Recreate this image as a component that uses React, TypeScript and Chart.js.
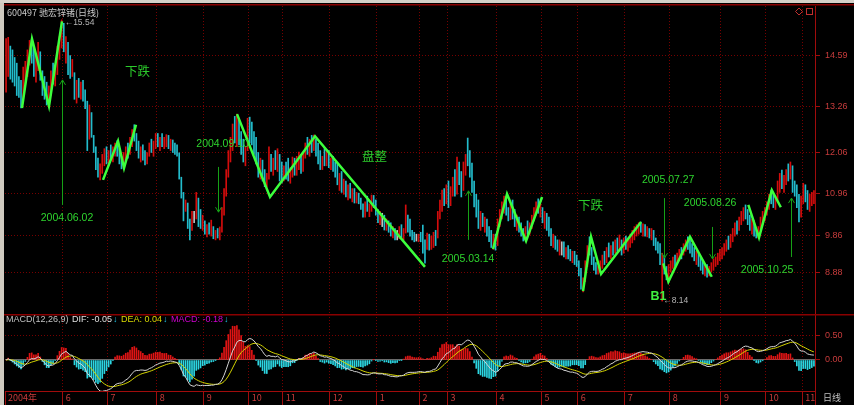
import React, { useEffect, useRef } from 'react';
import { Chart, registerables } from 'chart.js';

Chart.register(...registerables);

// ---- daily bars (600497, 2004-04 .. 2005-11) ----
const highs = [
  15.05, 15.08, 14.85, 14.75, 14.55, 14.40, 14.05, 13.95, 14.30, 14.45,
  14.75, 15.00, 15.03, 14.80, 14.60, 14.95, 14.70, 14.20, 14.05, 13.90,
  13.80, 14.20, 14.40, 14.35, 14.85, 15.10, 15.54, 15.45, 15.10, 14.95,
  14.60, 14.50, 14.15, 13.95, 14.00, 13.90, 13.95, 13.70, 13.40, 13.30,
  13.10, 12.50, 12.20, 11.90, 11.75, 12.00, 12.15, 12.20, 12.10, 12.25,
  12.20, 12.30, 12.36, 12.15, 11.95, 12.05, 12.20, 12.30, 12.45, 12.65,
  12.78, 12.55, 12.35, 12.20, 12.25, 12.10, 12.05, 12.30, 12.40, 12.35,
  12.55, 12.55, 12.45, 12.55, 12.45, 12.52, 12.50, 12.40, 12.38, 12.30,
  12.25, 12.04, 11.40, 11.00, 10.80, 10.72, 10.30, 10.50, 10.50, 11.00,
  10.85, 10.55, 10.40, 10.25, 10.15, 10.20, 10.27, 10.10, 10.00, 10.05,
  10.09, 10.60, 11.10, 11.60, 12.10, 12.45, 12.80, 13.00, 13.06, 12.95,
  12.60, 12.40, 12.20, 12.95, 12.98, 12.85, 12.60, 12.45, 12.05, 11.90,
  11.85, 11.60, 11.50, 12.20, 12.00, 11.90, 12.10, 12.15, 12.00, 11.80,
  11.70, 11.80, 11.90, 11.65, 11.93, 11.90, 11.95, 12.06, 12.00, 12.05,
  12.30, 12.45, 12.40, 12.50, 12.51, 12.40, 12.30, 12.10, 11.95, 12.15,
  12.12, 12.10, 11.90, 11.95, 11.80, 11.77, 11.50, 11.55, 11.35, 11.30,
  11.20, 11.24, 11.10, 11.10, 11.00, 10.98, 10.85, 10.70, 10.75, 10.90,
  10.70, 10.93, 10.92, 10.80, 10.55, 10.50, 10.45, 10.40, 10.30, 10.25,
  10.20, 10.10, 10.05, 10.00, 10.10, 10.15, 10.05, 10.67, 10.40, 10.30,
  10.00, 9.95, 9.90, 9.90, 9.95, 10.14, 9.75, 9.93, 9.90, 9.85,
  9.95, 10.00, 10.50, 10.80, 11.06, 11.10, 11.20, 11.30, 11.15, 11.40,
  11.60, 11.93, 11.80, 11.55, 11.80, 12.00, 12.43, 12.10, 11.77, 11.30,
  10.95, 10.80, 10.50, 10.45, 10.35, 10.30, 10.10, 10.00, 9.90, 9.90,
  10.30, 10.55, 10.75, 10.90, 10.88, 10.60, 10.70, 10.80, 10.55, 10.40,
  10.35, 10.20, 10.05, 10.10, 10.25, 10.20, 10.40, 10.60, 10.75, 10.83,
  10.70, 10.60, 10.50, 10.45, 10.35, 10.05, 9.90, 9.85, 9.75, 9.75,
  9.70, 9.70, 9.55, 9.60, 9.50, 9.45, 9.45, 9.35, 9.20, 9.00,
  8.75, 9.20, 9.60, 9.83, 9.55, 9.30, 9.15, 9.05, 9.20, 9.35,
  9.45, 9.55, 9.67, 9.60, 9.70, 9.75, 9.80, 9.88, 9.75, 9.80,
  9.85, 9.80, 9.90, 10.00, 10.10, 10.15, 10.20, 10.22, 10.17, 10.15,
  10.10, 10.05, 10.05, 10.00, 9.80, 9.70, 9.65, 9.40, 9.35, 9.05,
  9.10, 9.20, 9.30, 9.35, 9.40, 9.50, 9.55, 9.65, 9.75, 9.83,
  9.75, 9.65, 9.55, 9.45, 9.40, 9.30, 9.20, 9.10, 9.10, 9.05,
  9.15, 9.25, 9.30, 9.40, 9.50, 9.55, 9.65, 9.75, 9.85, 9.90,
  10.05, 10.20, 10.25, 10.35, 10.50, 10.60, 10.67, 10.55, 10.40, 10.30,
  10.25, 10.05, 10.10, 10.35, 10.50, 10.60, 10.75, 10.95, 11.06, 10.95,
  10.90, 11.30, 11.50, 11.59, 11.45, 11.60, 11.75, 11.80, 11.70, 11.30,
  11.20, 10.95, 10.90, 11.24, 11.20, 11.05, 10.95, 11.00, 11.05,
];

const lows = [
  13.64, 14.05, 13.98, 13.90, 13.80, 13.55, 13.50, 13.22, 13.40, 13.85,
  14.05, 14.35, 14.40, 14.05, 13.90, 14.20, 13.95, 13.55, 13.45, 13.30,
  13.27, 13.55, 13.85, 13.80, 14.10, 14.50, 14.80, 14.70, 14.40, 14.10,
  14.00, 14.05, 13.45, 13.35, 13.50, 13.45, 13.40, 13.20, 12.10, 12.40,
  12.45, 12.05, 11.60, 11.40, 11.33, 11.50, 11.70, 11.75, 11.70, 11.85,
  11.80, 11.95, 11.95, 11.75, 11.62, 11.64, 11.85, 11.90, 12.00, 12.20,
  12.35, 12.10, 11.90, 11.80, 11.85, 11.72, 11.75, 11.95, 12.05, 11.95,
  12.15, 12.20, 12.10, 12.20, 12.15, 12.20, 12.15, 12.10, 12.05, 12.00,
  11.95, 11.35, 10.85, 10.25, 10.50, 10.05, 9.75, 10.00, 10.20, 10.30,
  10.10, 10.05, 10.00, 9.90, 9.83, 9.90, 9.85, 9.78, 9.75, 9.80,
  9.75, 9.95, 10.40, 10.90, 11.40, 11.80, 12.10, 12.30, 12.20, 12.25,
  12.00, 11.80, 11.70, 12.10, 12.30, 12.25, 12.00, 11.75, 11.40, 11.35,
  11.30, 11.15, 11.14, 11.35, 11.55, 11.45, 11.60, 11.55, 11.30, 11.25,
  11.30, 11.35, 11.30, 11.24, 11.40, 11.45, 11.45, 11.60, 11.50, 11.55,
  11.90, 12.00, 11.95, 12.05, 12.10, 11.95, 11.75, 11.60, 11.60, 11.70,
  11.70, 11.65, 11.60, 11.55, 11.40, 11.20, 11.05, 11.00, 10.95, 10.88,
  10.80, 10.85, 10.75, 10.72, 10.72, 10.70, 10.55, 10.35, 10.35, 10.50,
  10.36, 10.50, 10.60, 10.40, 10.20, 10.15, 10.10, 10.01, 10.00, 9.95,
  9.85, 9.80, 9.75, 9.75, 9.78, 9.80, 9.75, 9.93, 9.95, 9.85,
  9.75, 9.70, 9.72, 9.70, 9.70, 9.40, 9.14, 9.50, 9.48, 9.50,
  9.55, 9.60, 9.80, 10.30, 10.50, 10.65, 10.70, 10.60, 10.65, 10.90,
  10.90, 10.95, 11.20, 10.88, 11.05, 11.45, 11.70, 11.40, 11.00, 10.62,
  10.35, 10.05, 10.00, 10.10, 9.95, 9.85, 9.70, 9.55, 9.50, 9.48,
  9.60, 10.10, 10.30, 10.45, 10.40, 10.25, 10.28, 10.30, 10.10, 10.00,
  9.95, 9.85, 9.72, 9.75, 9.90, 9.90, 10.05, 10.25, 10.40, 10.45,
  10.35, 10.20, 10.05, 10.00, 9.85, 9.60, 9.55, 9.50, 9.45, 9.35,
  9.35, 9.30, 9.25, 9.25, 9.20, 9.15, 9.10, 9.05, 8.80, 8.45,
  8.38, 8.65, 9.05, 9.35, 9.10, 8.95, 8.85, 8.85, 8.90, 9.00,
  9.10, 9.15, 9.30, 9.25, 9.35, 9.40, 9.45, 9.50, 9.35, 9.40,
  9.50, 9.45, 9.55, 9.67, 9.75, 9.85, 9.90, 9.95, 9.85, 9.85,
  9.83, 9.80, 9.75, 9.60, 9.48, 9.40, 9.10, 8.14, 8.85, 8.70,
  8.75, 8.90, 9.00, 9.05, 9.10, 9.20, 9.25, 9.35, 9.45, 9.50,
  9.40, 9.30, 9.20, 9.10, 9.05, 8.95, 8.85, 8.80, 8.77, 8.80,
  8.90, 8.95, 9.05, 9.10, 9.20, 9.25, 9.35, 9.45, 9.50, 9.55,
  9.70, 9.85, 9.90, 10.00, 10.15, 10.25, 10.30, 10.15, 10.00, 9.90,
  9.85, 9.80, 9.80, 10.00, 10.15, 10.25, 10.40, 10.55, 10.70, 10.60,
  10.55, 10.80, 11.00, 11.10, 11.00, 11.20, 11.30, 11.35, 11.00, 10.90,
  10.60, 10.22, 10.35, 10.70, 10.75, 10.55, 10.50, 10.65, 10.70,
];

const closes = [
  14.30, 14.60, 14.10, 14.00, 13.85, 13.70, 13.60, 13.45, 14.10, 14.30,
  14.55, 14.80, 14.50, 14.20, 14.45, 14.70, 14.05, 13.70, 13.60, 13.45,
  13.65, 14.05, 13.95, 14.25, 14.70, 14.95, 15.20, 14.85, 14.95, 14.25,
  14.15, 14.40, 13.60, 13.80, 13.65, 13.85, 13.50, 13.30, 12.30, 13.00,
  12.60, 12.15, 11.70, 11.55, 11.65, 11.90, 12.05, 11.85, 12.00, 11.95,
  12.10, 12.25, 12.05, 11.85, 11.75, 11.95, 12.10, 12.00, 12.35, 12.55,
  12.45, 12.20, 12.00, 12.10, 11.95, 11.85, 12.00, 12.25, 12.15, 12.30,
  12.40, 12.30, 12.40, 12.25, 12.35, 12.45, 12.20, 12.35, 12.15, 12.10,
  12.05, 11.40, 10.95, 10.40, 10.70, 10.15, 9.95, 10.35, 10.35, 10.80,
  10.25, 10.20, 10.30, 10.05, 10.10, 9.95, 10.00, 9.85, 9.95, 9.82,
  10.00, 10.50, 11.00, 11.50, 11.95, 12.30, 12.55, 12.45, 12.90, 12.40,
  12.15, 11.90, 12.10, 12.80, 12.70, 12.35, 12.10, 11.85, 11.60, 11.80,
  11.40, 11.25, 11.45, 12.05, 11.65, 11.85, 11.70, 12.05, 11.40, 11.35,
  11.60, 11.45, 11.40, 11.50, 11.85, 11.55, 11.90, 11.95, 11.70, 11.98,
  12.25, 12.10, 12.35, 12.20, 12.45, 12.00, 11.85, 11.70, 11.90, 11.80,
  12.05, 11.75, 11.80, 11.65, 11.50, 11.30, 11.45, 11.10, 11.25, 10.95,
  11.15, 10.90, 11.05, 10.80, 10.95, 10.75, 10.62, 10.45, 10.65, 10.55,
  10.60, 10.85, 10.70, 10.50, 10.30, 10.40, 10.40, 10.10, 10.20, 10.00,
  9.90, 10.00, 9.85, 9.85, 10.05, 9.90, 9.95, 10.20, 10.05, 9.95,
  9.82, 9.80, 9.80, 9.85, 9.75, 9.60, 9.55, 9.80, 9.60, 9.75,
  9.90, 9.70, 10.40, 10.70, 10.90, 10.75, 11.10, 10.70, 11.05, 11.20,
  11.00, 11.70, 11.35, 11.10, 11.65, 11.90, 11.85, 11.55, 11.10, 10.75,
  10.50, 10.15, 10.40, 10.20, 10.25, 9.95, 9.80, 9.65, 9.85, 9.60,
  10.20, 10.45, 10.60, 10.80, 10.50, 10.35, 10.65, 10.40, 10.20, 10.30,
  10.05, 9.95, 9.90, 10.05, 10.00, 10.15, 10.35, 10.50, 10.60, 10.55,
  10.65, 10.30, 10.40, 10.10, 9.95, 9.70, 9.80, 9.60, 9.55, 9.65,
  9.65, 9.40, 9.50, 9.35, 9.30, 9.40, 9.20, 9.15, 8.90, 8.55,
  8.70, 9.10, 9.50, 9.45, 9.20, 9.05, 8.95, 9.00, 9.15, 9.25,
  9.20, 9.45, 9.40, 9.55, 9.45, 9.70, 9.55, 9.60, 9.45, 9.75,
  9.60, 9.70, 9.80, 9.90, 10.00, 10.05, 10.15, 10.05, 10.10, 9.95,
  10.00, 9.90, 9.95, 9.70, 9.55, 9.50, 9.12, 9.20, 8.95, 8.85,
  9.00, 9.10, 9.25, 9.15, 9.35, 9.45, 9.40, 9.60, 9.70, 9.60,
  9.50, 9.40, 9.30, 9.35, 9.15, 9.05, 8.95, 9.00, 8.85, 9.00,
  9.10, 9.20, 9.25, 9.35, 9.45, 9.50, 9.60, 9.70, 9.65, 9.85,
  10.00, 10.10, 10.05, 10.30, 10.40, 10.55, 10.45, 10.25, 10.10, 10.20,
  9.95, 9.90, 10.05, 10.30, 10.40, 10.55, 10.70, 10.85, 10.80, 10.70,
  10.85, 11.20, 11.40, 11.25, 11.35, 11.50, 11.45, 11.70, 11.10, 11.00,
  10.70, 10.40, 10.80, 11.10, 10.85, 10.65, 10.85, 10.90, 10.95,
];

// month boundaries (bar index where each month starts) and their labels
const monthStarts = [0, 27, 48, 71, 93, 114, 130, 152, 174, 194, 207, 230, 251, 268, 290, 311, 335, 356, 373];
const monthLabels = ['2004年', '6', '7', '8', '9', '10', '11', '12', '1', '2', '3', '4', '5', '6', '7', '8', '9', '10', '11'];
const priceTicks = [8.88, 9.86, 10.96, 12.06, 13.26, 14.59];
const macdTicks = [0, 0.5];

// hand-drawn wave lines, as [bar index, price]
const zigzags: number[][][] = [
  [[7.45, 13.22], [12.13, 15.04], [20.09, 13.27], [26.17, 15.5]],
  [[45.36, 11.33], [52.38, 12.35], [55.19, 11.64], [60.8, 12.78]],
  [[108.06, 13.06], [123.5, 10.88], [144.56, 12.48], [196.0, 9.04]],
  [[227.86, 9.51], [234.4, 10.96], [243.3, 9.72], [250.8, 10.88]],
  [[269.97, 8.4], [273.7, 9.83], [278.4, 8.85], [297.1, 10.22]],
  [[307.5, 9.13], [309.9, 8.65], [320.0, 9.83], [330.2, 8.78]],
  [[347.3, 10.67], [352.3, 9.81], [358.3, 11.06], [362.5, 10.61]],
];

// dated arrows: label text, label anchor, arrow bar index, arrow start/end price
const dateNotes = [
  { text: '2004.06.02', lx: 28.5, ly: 10.33, ax: 26.17, from: 10.67, to: 13.96 },
  { text: '2004.09.10', lx: 101.3, ly: 12.27, ax: 99.2, from: 11.67, to: 10.48 },
  { text: '2005.03.14', lx: 216.2, ly: 9.25, ax: 216.2, from: 9.75, to: 11.04 },
  { text: '2005.07.27', lx: 309.8, ly: 11.33, ax: 307.9, from: 10.85, to: 9.27 },
  { text: '2005.08.26', lx: 329.4, ly: 10.72, ax: 330.3, from: 10.09, to: 9.25 },
  { text: '2005.10.25', lx: 356.1, ly: 8.96, ax: 367.3, from: 9.30, to: 10.85 },
];
const wordNotes = [
  { text: '下跌', x: 61.5, y: 14.19 },
  { text: '盘整', x: 172.4, y: 11.96 },
  { text: '下跌', x: 273.5, y: 10.67 },
];

const UP = '#d40c0c';
const DOWN = '#22bccc';
const FLAT = '#c0c0c0';
const GRID = '#760000';
const AXIS = '#a00c0c';
const AXIS_TEXT = '#c83c3c';
const LATIN = '"Liberation Sans", Arial, sans-serif';
const CJK = '"Noto Sans CJK SC", "Liberation Sans", sans-serif';

function ema(src: number[], n: number): number[] {
  const k = 2 / (n + 1);
  const out: number[] = [];
  let prev = src[0];
  for (let i = 0; i < src.length; i++) {
    prev = i === 0 ? src[0] : prev + k * (src[i] - prev);
    out.push(prev);
  }
  return out;
}

const ema12 = ema(closes, 12);
const ema26 = ema(closes, 26);
const dif = closes.map((_, i) => ema12[i] - ema26[i]);
const dea = ema(dif, 9);
const macd = dif.map((d, i) => 2 * (d - dea[i]));

const candleColors = closes.map((c, i) =>
  i === 0 ? UP : c > closes[i - 1] ? UP : c < closes[i - 1] ? DOWN : FLAT
);

const N = closes.length;

function drawArrow(ctx: CanvasRenderingContext2D, x: number, y1: number, y2: number) {
  ctx.beginPath();
  ctx.moveTo(x, y1);
  ctx.lineTo(x, y2);
  const d = y2 < y1 ? 5 : -5;
  ctx.moveTo(x - 3, y2 + d);
  ctx.lineTo(x, y2);
  ctx.lineTo(x + 3, y2 + d);
  ctx.stroke();
}

const noPad = (s: any) => {
  s.paddingTop = 0;
  s.paddingBottom = 0;
  s.paddingLeft = 0;
  s.paddingRight = 0;
};

const pricePlugin = {
  id: 'priceDecor',
  afterDraw(chart: any) {
    const { ctx, scales } = chart;
    const xs = scales.x;
    const ys = scales.y;
    ctx.save();
    // frame
    ctx.fillStyle = '#d4d0c8';
    ctx.fillRect(0, 0, 854, 3);
    ctx.fillStyle = '#8a0000';
    ctx.fillRect(0, 4, 854, 1.5);
    ctx.fillStyle = '#cfcac0';
    ctx.fillRect(0, 3, 4, 311);
    // title
    ctx.font = '9px ' + CJK;
    ctx.fillStyle = '#c8c8c8';
    ctx.textBaseline = 'middle';
    ctx.textAlign = 'left';
    ctx.fillText('600497 驰宏锌锗(日线)', 7, 13);
    // small icons top right
    ctx.strokeStyle = '#c03030';
    ctx.lineWidth = 1;
    ctx.beginPath();
    ctx.moveTo(799, 8); ctx.lineTo(802.5, 11.5); ctx.lineTo(799, 15); ctx.lineTo(795.5, 11.5); ctx.closePath();
    ctx.stroke();
    ctx.strokeRect(806.5, 8.5, 6, 6);

    // arrows + date labels
    ctx.strokeStyle = '#16a016';
    ctx.lineWidth = 1;
    ctx.font = '10.5px ' + LATIN;
    ctx.textAlign = 'center';
    for (const n of dateNotes) {
      const ax = Math.round(xs.getPixelForValue(n.ax)) + 0.5;
      drawArrow(ctx, ax, ys.getPixelForValue(n.from), ys.getPixelForValue(n.to));
      ctx.fillStyle = '#2ed42e';
      ctx.fillText(n.text, xs.getPixelForValue(n.lx), ys.getPixelForValue(n.ly));
    }
    // words
    ctx.font = '12.5px ' + CJK;
    ctx.fillStyle = '#2ccc2c';
    for (const w of wordNotes) {
      ctx.fillText(w.text, xs.getPixelForValue(w.x), ys.getPixelForValue(w.y));
    }
    // B1
    ctx.font = 'bold 12.5px ' + LATIN;
    ctx.fillStyle = '#40f040';
    ctx.fillText('B1', xs.getPixelForValue(305.3), ys.getPixelForValue(8.25));
    // high / low marks
    ctx.font = '8.5px ' + LATIN;
    ctx.fillStyle = '#b4b4b4';
    ctx.textAlign = 'left';
    let hiIdx = 0;
    let loIdx = 0;
    for (let i = 0; i < N; i++) {
      if (highs[i] > highs[hiIdx]) hiIdx = i;
      if (lows[i] < lows[loIdx]) loIdx = i;
    }
    const hx = xs.getPixelForValue(hiIdx) + 3;
    const hy = ys.getPixelForValue(highs[hiIdx]) + 3;
    ctx.fillText('←' + highs[hiIdx].toFixed(2), hx, hy);
    const lx = xs.getPixelForValue(loIdx) + 1;
    const ly = ys.getPixelForValue(lows[loIdx]);
    ctx.fillText('←' + lows[loIdx].toFixed(2), lx, ly);
    ctx.restore();
  },
};

const macdPlugin = {
  id: 'macdDecor',
  afterDraw(chart: any) {
    const { ctx } = chart;
    ctx.save();
    ctx.fillStyle = '#8a0000';
    ctx.fillRect(0, 0, 854, 1.5);
    ctx.fillStyle = '#cfcac0';
    ctx.fillRect(0, 0, 4, 91);
    ctx.fillStyle = AXIS;
    ctx.fillRect(815, 77, 1, 14);
    // legend text
    ctx.font = '9px ' + LATIN;
    ctx.textBaseline = 'middle';
    ctx.textAlign = 'left';
    const parts: [string, string][] = [
      ['MACD(12,26,9) ', '#c0c0c0'],
      ['DIF: -0.05', '#e0e0e0'],
      ['↓', '#20c8e8'],
      [' DEA: 0.04', '#d8d800'],
      ['↓', '#20c8e8'],
      [' MACD: -0.18', '#d000d0'],
      ['↓', '#20c8e8'],
    ];
    let x = 6;
    for (const [t, c] of parts) {
      ctx.fillStyle = c;
      ctx.fillText(t, x, 6);
      x += ctx.measureText(t).width + 1;
    }
    ctx.font = '9px ' + CJK;
    ctx.fillStyle = '#c0c0c0';
    ctx.fillText('日线', 823, 84);
    ctx.restore();
  },
};

export default function App() {
  const priceRef = useRef<HTMLCanvasElement>(null);
  const macdRef = useRef<HTMLCanvasElement>(null);

  useEffect(() => {
    const monthTicks = (s: any) => {
      s.ticks = monthStarts.map((m) => ({ value: m - 0.5 }));
    };
    const vGridColor = (c: any) => (c.index === 0 ? 'rgba(0,0,0,0)' : GRID);

    const price = new Chart(priceRef.current as HTMLCanvasElement, {
      type: 'bar',
      data: {
        datasets: [
          {
            type: 'bar',
            data: closes.map((_, i) => ({ x: i, y: [lows[i], highs[i]] })) as any,
            backgroundColor: candleColors,
            borderWidth: 0,
            barThickness: 1,
            grouped: false,
            order: 2,
          } as any,
          ...zigzags.map((z) => ({
            type: 'line',
            data: z.map(([x, y]) => ({ x, y })),
            borderColor: '#3cff3c',
            borderWidth: 2.5,
            pointRadius: 0,
            tension: 0,
            order: 1,
          })) as any,
        ],
      },
      options: {
        responsive: false,
        animation: false,
        devicePixelRatio: 1,
        events: [],
        layout: { padding: { left: 5, top: 6, right: 0, bottom: 1 } },
        plugins: { legend: { display: false }, tooltip: { enabled: false } },
        scales: {
          x: {
            type: 'linear',
            min: -0.5,
            max: N - 0.5,
            offset: false,
            afterBuildTicks: monthTicks,
            ticks: { display: false },
            grid: { color: vGridColor, drawTicks: false, offset: false, lineWidth: 1 },
            border: { display: false, dash: [1, 2] },
            afterFit: (s: any) => {
              s.height = 0;
              noPad(s);
            },
          },
          y: {
            type: 'linear',
            position: 'right',
            min: 7.826,
            max: 15.905,
            beginAtZero: false,
            afterBuildTicks: (s: any) => {
              s.ticks = priceTicks.map((v) => ({ value: v }));
            },
            ticks: {
              color: AXIS_TEXT,
              font: { family: LATIN, size: 9 },
              padding: 5,
              callback: (v: any) => Number(v).toFixed(2),
            },
            grid: { color: GRID, tickColor: AXIS, tickLength: 5, tickBorderDash: [] },
            border: { display: true, color: AXIS, dash: [1, 2] },
            afterFit: (s: any) => {
              s.width = 39;
              noPad(s);
            },
          },
        },
      } as any,
      plugins: [pricePlugin],
    });

    const macdChart = new Chart(macdRef.current as HTMLCanvasElement, {
      type: 'bar',
      data: {
        datasets: [
          {
            type: 'line',
            data: dif.map((v, i) => ({ x: i, y: v })),
            borderColor: '#d4d4d4',
            borderWidth: 1,
            pointRadius: 0,
            tension: 0,
            order: 1,
          } as any,
          {
            type: 'line',
            data: dea.map((v, i) => ({ x: i, y: v })),
            borderColor: '#d4d400',
            borderWidth: 1,
            pointRadius: 0,
            tension: 0,
            order: 2,
          } as any,
          {
            type: 'bar',
            data: macd.map((v, i) => ({ x: i, y: v })),
            backgroundColor: macd.map((v) => (v >= 0 ? '#e01414' : '#2cd6e2')),
            borderWidth: 0,
            barThickness: 1,
            grouped: false,
            base: 0,
            order: 3,
          } as any,
        ],
      },
      options: {
        responsive: false,
        animation: false,
        devicePixelRatio: 1,
        events: [],
        layout: { padding: { left: 5, top: 0, right: 0, bottom: 0 } },
        plugins: { legend: { display: false }, tooltip: { enabled: false } },
        scales: {
          x: {
            type: 'linear',
            position: 'bottom',
            min: -0.5,
            max: N - 0.5,
            offset: false,
            afterBuildTicks: monthTicks,
            ticks: {
              autoSkip: false,
              maxRotation: 0,
              align: 'start',
              labelOffset: 3,
              padding: -13,
              color: AXIS_TEXT,
              font: { family: CJK, size: 9 },
              callback: (_v: any, i: number) => monthLabels[i],
            },
            grid: { color: vGridColor, tickColor: AXIS, tickLength: 14, tickBorderDash: [], offset: false },
            border: { display: true, color: AXIS, dash: [1, 2] },
            afterFit: (s: any) => {
              s.height = 14;
              noPad(s);
            },
          },
          y: {
            type: 'linear',
            position: 'right',
            min: -0.646,
            max: 0.958,
            beginAtZero: false,
            afterBuildTicks: (s: any) => {
              s.ticks = macdTicks.map((v) => ({ value: v }));
            },
            ticks: {
              color: AXIS_TEXT,
              font: { family: LATIN, size: 9 },
              padding: 5,
              callback: (v: any) => Number(v).toFixed(2),
            },
            grid: {
              color: (c: any) => (c.tick && c.tick.value === 0 ? '#6a6a6a' : GRID),
              tickColor: AXIS,
              tickLength: 5,
              tickBorderDash: [],
            },
            border: {
              display: true,
              color: AXIS,
              dash: (c: any) => (c.tick && c.tick.value === 0 ? [] : [1, 2]),
            },
            afterFit: (s: any) => {
              s.width = 39;
              noPad(s);
            },
          },
        },
      } as any,
      plugins: [macdPlugin],
    });

    return () => {
      price.destroy();
      macdChart.destroy();
    };
  }, []);

  return (
    <div style={{ position: 'fixed', left: 0, top: 0, width: 854, height: 405, background: '#000', overflow: 'hidden' }}>
      <canvas ref={priceRef} width={854} height={314} style={{ position: 'absolute', left: 0, top: 0, width: 854, height: 314 }} />
      <canvas ref={macdRef} width={854} height={91} style={{ position: 'absolute', left: 0, top: 314, width: 854, height: 91 }} />
    </div>
  );
}
